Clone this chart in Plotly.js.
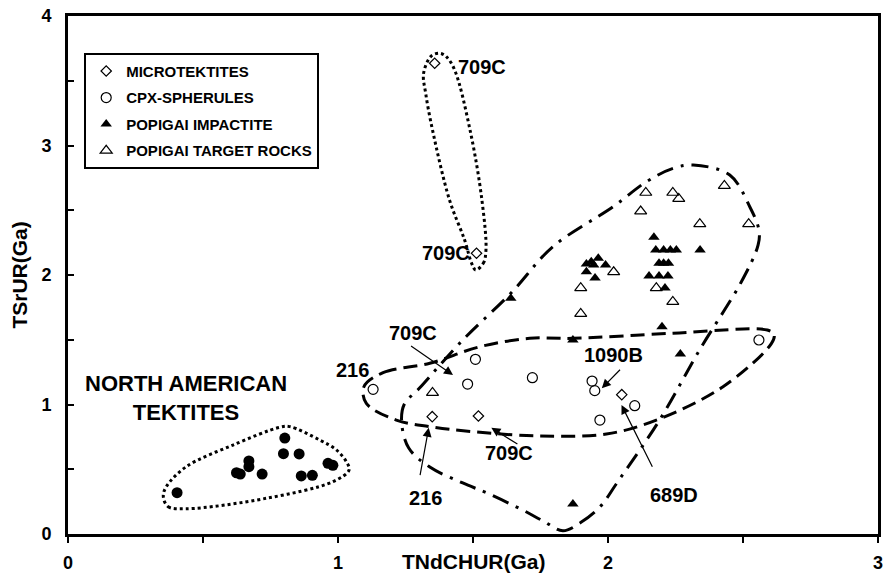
<!DOCTYPE html>
<html>
<head>
<meta charset="utf-8">
<script src="https://cdn.plot.ly/plotly-3.0.1.min.js"></script>
<style>html,body{margin:0;padding:0;background:#fff;}#chart{width:884px;height:575px;}</style>
</head>
<body>
<div id="chart"></div>
<script>
// ---- data (TNdCHUR in Ga on x, TSrUR in Ga on y) ----
var tektX = [0.404, 0.624, 0.638, 0.670, 0.670, 0.719, 0.803, 0.798, 0.856, 0.864, 0.905, 0.963, 0.981];
var tektY = [0.319, 0.473, 0.463, 0.564, 0.520, 0.463, 0.741, 0.620, 0.618, 0.448, 0.453, 0.546, 0.530];

var microX = [1.358, 1.513, 1.349, 1.520, 2.051];
var microY = [3.635, 2.168, 0.906, 0.911, 1.076];

var cpxX = [1.130, 1.509, 1.480, 1.720, 1.941, 1.951, 2.099, 1.970, 2.559];
var cpxY = [1.117, 1.349, 1.158, 1.207, 1.181, 1.107, 0.991, 0.880, 1.498];

var impX = [1.640, 1.920, 1.938, 1.964, 1.947, 1.991, 1.920, 1.952, 2.170, 2.177, 2.206, 2.231, 2.253, 2.341, 2.189, 2.206, 2.224, 2.152, 2.189, 2.222, 2.211, 2.200, 1.870, 2.268, 1.870];
var impY = [1.820, 2.085, 2.103, 2.129, 2.077, 2.077, 2.026, 1.977, 2.291, 2.193, 2.193, 2.193, 2.193, 2.193, 2.090, 2.090, 2.090, 1.992, 1.992, 1.992, 1.900, 1.601, 1.498, 1.390, 0.232];

var targX = [1.350, 2.140, 2.240, 2.262, 2.431, 2.121, 2.340, 2.521, 2.021, 1.899, 2.179, 2.240, 1.899];
var targY = [1.091, 2.636, 2.636, 2.589, 2.690, 2.492, 2.394, 2.394, 2.023, 1.900, 1.900, 1.794, 1.701];

// hand-drawn field outlines (data space)
var tektFieldX = [0.353, 0.371, 0.438, 0.735, 0.981, 1.041, 1.031, 0.994, 0.932, 0.821, 0.784, 0.611, 0.438, 0.364, 0.353];
var tektFieldY = [0.288, 0.211, 0.195, 0.276, 0.404, 0.494, 0.558, 0.649, 0.726, 0.829, 0.824, 0.687, 0.520, 0.365, 0.288];

var microFieldX = [1.510, 1.538, 1.548, 1.533, 1.489, 1.432, 1.401, 1.377, 1.345, 1.317, 1.325, 1.350, 1.413, 1.469, 1.495, 1.510];
var microFieldY = [2.039, 2.090, 2.193, 2.579, 3.120, 3.583, 3.686, 3.712, 3.690, 3.557, 3.400, 3.120, 2.579, 2.270, 2.090, 2.039];

var cpxFieldX = [1.096, 1.167, 1.340, 1.525, 1.710, 1.870, 2.241, 2.590, 2.615, 2.605, 2.426, 2.179, 1.994, 1.747, 1.500, 1.340, 1.216, 1.105, 1.096];
var cpxFieldY = [1.137, 1.246, 1.318, 1.446, 1.511, 1.511, 1.550, 1.575, 1.540, 1.470, 1.137, 0.880, 0.772, 0.757, 0.790, 0.829, 0.880, 1.009, 1.137];

var popFieldX = [1.833, 1.900, 1.970, 2.033, 2.191, 2.339, 2.494, 2.556, 2.559, 2.525, 2.451, 2.316, 2.241, 2.142, 2.019, 1.796, 1.640, 1.462, 1.302, 1.245, 1.236, 1.262, 1.340, 1.462, 1.551, 1.684, 1.760, 1.833];
var popFieldY = [0.025, 0.090, 0.208, 0.394, 0.880, 1.421, 1.948, 2.232, 2.347, 2.527, 2.772, 2.849, 2.824, 2.720, 2.527, 2.219, 1.859, 1.498, 1.127, 1.000, 0.857, 0.664, 0.517, 0.394, 0.317, 0.185, 0.100, 0.025];

var xTickVals = [0, 0.5, 1, 1.5, 2, 2.5, 3];
var xTickText = ['0', '', '1', '', '2', '', '3'];
var yTickVals = [0, 0.5, 1, 1.5, 2, 2.5, 3, 3.5, 4];
var yTickText = ['0', '', '1', '', '2', '', '3', '', '4'];

// ---- drawing ----
var FONT = 'Liberation Sans, Arial, Helvetica, sans-serif';
function field(x, y, dash) {
  return {x: x, y: y, type: 'scatter', mode: 'lines', showlegend: false, hoverinfo: 'skip',
          line: {color: '#000', width: 3, dash: dash, shape: 'spline', smoothing: 1}};
}
function bold(t) { return t ? '<b>' + t + '</b>' : ''; }
var traces = [
  field(tektFieldX, tektFieldY, 'dot'),
  field(microFieldX, microFieldY, 'dot'),
  field(cpxFieldX, cpxFieldY, '14px,7px'),
  field(popFieldX, popFieldY, '17px,8px,3px,8px'),
  {x: tektX, y: tektY, type: 'scatter', mode: 'markers', name: 'NORTH AMERICAN TEKTITES', showlegend: false,
   marker: {symbol: 'circle', size: 11, color: '#000'}},
  {x: microX, y: microY, type: 'scatter', mode: 'markers', name: bold('MICROTEKTITES'), legendgroup: 'a',
   marker: {symbol: 'diamond-open', size: 8, color: '#000', line: {width: 1.2}}},
  {x: cpxX, y: cpxY, type: 'scatter', mode: 'markers', name: bold('CPX-SPHERULES'), legendgroup: 'b',
   marker: {symbol: 'circle-open', size: 10, color: '#000', line: {width: 1.2}}},
  {x: impX, y: impY, type: 'scatter', mode: 'markers', name: bold('POPIGAI IMPACTITE'), legendgroup: 'c',
   marker: {symbol: 'triangle-up', size: 10, color: '#000'}},
  {x: targX, y: targY, type: 'scatter', mode: 'markers', name: bold('POPIGAI TARGET ROCKS'), legendgroup: 'd',
   marker: {symbol: 'triangle-up-open', size: 10.5, color: '#000', line: {width: 1.2}}}
];

function lbl(text, x, y, xanchor, size) {
  return {text: bold(text), x: x, y: y, xref: 'x', yref: 'y', showarrow: false,
          xanchor: xanchor || 'center', yanchor: 'middle', font: {family: FONT, size: size || 20, color: '#000'}};
}
function arrow(x, y, ax, ay) {
  return {text: '', x: x, y: y, ax: ax, ay: ay, xref: 'x', yref: 'y', axref: 'x', ayref: 'y',
          showarrow: true, arrowhead: 2, arrowsize: 1.5, arrowwidth: 1.2, arrowcolor: '#000', standoff: 0};
}
var annotations = [
  lbl('709C', 1.437, 3.606, 'left'),
  lbl('709C', 1.497, 2.170, 'right'),
  lbl('709C', 1.277, 1.552),
  lbl('216', 1.053, 1.270),
  lbl('216', 1.325, 0.278),
  lbl('709C', 1.632, 0.625),
  lbl('1090B', 2.022, 1.382),
  lbl('689D', 2.246, 0.301),
  lbl('NORTH AMERICAN<br>TEKTITES', 0.436, 1.050, 'center', 22),
  arrow(1.426, 1.228, 1.265, 1.459),
  arrow(1.336, 0.820, 1.303, 0.443),
  arrow(1.568, 0.820, 1.670, 0.687),
  arrow(1.977, 1.125, 2.050, 1.280),
  arrow(2.050, 0.996, 2.167, 0.507),
  {text: bold('TNdCHUR(Ga)'), x: 0.501, y: -0.0535, xref: 'paper', yref: 'paper', showarrow: false,
   xanchor: 'center', yanchor: 'middle', font: {family: FONT, size: 21, color: '#000'}},
  {text: bold('TSrUR(Ga)'), x: -0.061, y: 0.500, xref: 'paper', yref: 'paper', showarrow: false, textangle: -90,
   xanchor: 'center', yanchor: 'middle', font: {family: FONT, size: 21, color: '#000'}}
];

var layout = {
  width: 884, height: 575,
  margin: {l: 68, r: 6, t: 16, b: 41, pad: 0},
  paper_bgcolor: '#fff', plot_bgcolor: '#fff',
  font: {family: FONT, color: '#000'},
  showlegend: true,
  legend: {x: 0.02, y: 0.929, xanchor: 'left', yanchor: 'top', bgcolor: '#fff', bordercolor: '#000', borderwidth: 2,
           font: {family: FONT, size: 15, color: '#000', weight: 'bold'}, traceorder: 'grouped', tracegroupgap: 4},
  xaxis: {range: [0, 3], tickmode: 'array', tickvals: xTickVals, ticktext: xTickText.map(bold),
          ticks: 'outside', ticklen: 6, tickwidth: 2, tickcolor: '#000', showline: true, linewidth: 3, linecolor: '#000',
          mirror: true, showgrid: false, zeroline: false, ticklabelstandoff: 4,
          tickfont: {family: FONT, size: 18, color: '#000', weight: 'bold'}, fixedrange: true},
  yaxis: {range: [0, 4], tickmode: 'array', tickvals: yTickVals, ticktext: yTickText.map(bold),
          ticks: 'inside', ticklen: 6, tickwidth: 2, tickcolor: '#000', showline: true, linewidth: 3, linecolor: '#000',
          mirror: true, showgrid: false, zeroline: false,
          tickfont: {family: FONT, size: 18, color: '#000', weight: 'bold'}, ticklabelstandoff: 10, fixedrange: true},
  annotations: annotations
};

Plotly.newPlot('chart', traces, layout, {staticPlot: true, displayModeBar: false});
</script>
</body>
</html>
